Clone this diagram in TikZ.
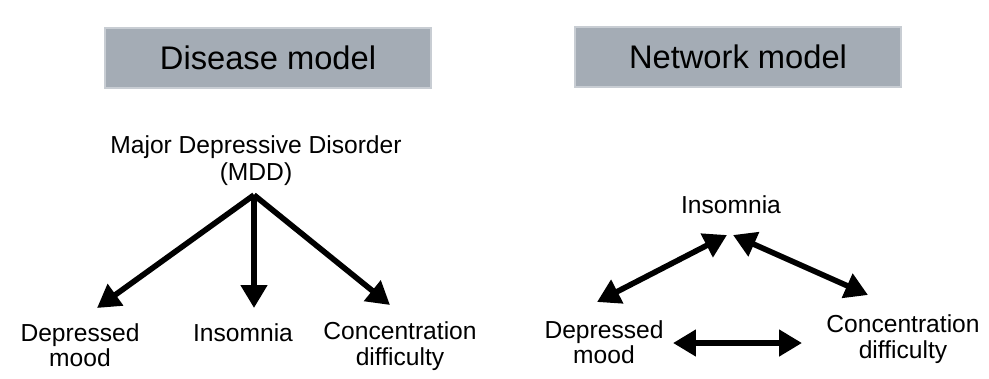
\documentclass[tikz,border=0pt]{standalone}
\usepackage{fontspec}
\setmainfont{Liberation Sans}
\usetikzlibrary{arrows.meta}

\definecolor{boxgray}{RGB}{164,172,181}

\tikzset{
  titlebox/.style={fill=boxgray, draw=boxgray!60!white, line width=0.6pt,
    minimum width=65.2mm, minimum height=12mm,
    font=\fontsize{18.6}{22}\selectfont},
  symptom/.style={align=center, font=\fontsize{14}{14.5}\selectfont},
  arr/.style={line width=3.2pt, -{Triangle[length=13pt, width=14.5pt]}},
  biarr/.style={line width=3.2pt,
    {Triangle[length=13pt, width=14.5pt]}-{Triangle[length=13pt, width=14.5pt]}}
}

\begin{document}
\begin{tikzpicture}[x=0.2mm, y=-0.2mm]
  \useasboundingbox (0,0) rectangle (989,378);

  % ---- 見出し ----
  \node[titlebox] (ttl1) at (268, 58) {Disease model};
  \node[titlebox] (ttl2) at (738, 57) {Network model};

  % ---- 左: 疾患モデル（MDD -> 症状） ----
  \node[symptom, font=\fontsize{14}{15.5}\selectfont] (mdd) at (256, 161)
    {Major Depressive Disorder \\ (MDD)};
  \coordinate (apex) at (254, 195);
  \node[symptom] (dep1) at (80, 345)  {Depressed \\ mood};
  \node[symptom] (ins1) at (243, 333) {Insomnia};
  \node[symptom] (con1) at (400, 346) {Concentration \\ difficulty};

  \foreach \n/\dx/\dy in {dep1/17/-37, ins1/11/-25, con1/-10/-41}{%
    \draw[arr] (apex) -- ([shift={(\dx,\dy)}]\n.center);
  }

  % ---- 右: ネットワークモデル（症状 <-> 症状） ----
  \node[symptom] (ins2) at (731, 205) {Insomnia};
  \node[symptom] (dep2) at (604, 342) {Depressed \\ mood};
  \node[symptom] (con2) at (903, 339) {Concentration \\ difficulty};

  \draw[biarr] ([shift={(-7,-40)}]dep2.center) -- ([shift={(-4,30)}]ins2.center);
  \draw[biarr] ([shift={(2,30)}]ins2.center) -- ([shift={(-35,-44)}]con2.center);
  \draw[biarr] ([shift={(69,1)}]dep2.center) -- ([shift={(-101,4)}]con2.center);
\end{tikzpicture}
\end{document}
